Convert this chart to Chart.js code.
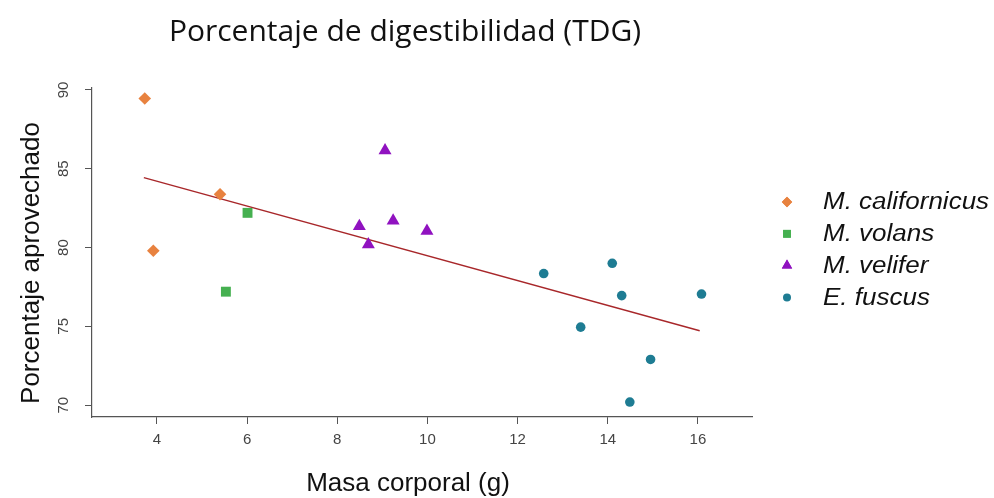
<!DOCTYPE html>
<html>
<head>
<meta charset="utf-8">
<script src="https://cdn.jsdelivr.net/npm/chart.js@4"></script>
<style>
html,body{margin:0;padding:0;background:#fff;}
#wrap{width:994px;height:498px;}
</style>
</head>
<body>
<div id="wrap"><canvas id="c" width="994" height="498"></canvas></div>
<script>
// ---- data ----
const title = "Porcentaje de digestibilidad (TDG)";
const xTitle = "Masa corporal (g)";
const yTitle = "Porcentaje aprovechado";
const xTicks = [4, 6, 8, 10, 12, 14, 16];
const yTicks = [70, 75, 80, 85, 90];

const speciesNames = ["M. californicus", "M. volans", "M. velifer", "E. fuscus"];
const speciesColors = ["#E8823F", "#45B050", "#9012C0", "#1E7C93"];
const speciesShapes = ["rectRot", "rect", "triangle", "circle"];

const calX = [3.73, 3.92, 5.40];
const calY = [89.45, 79.8, 83.38];
const volX = [6.01, 5.53];
const volY = [82.2, 77.2];
const velX = [9.06, 8.49, 8.69, 9.24, 9.99];
const velY = [86.15, 81.35, 80.2, 81.7, 81.05];
const fusX = [12.58, 14.10, 14.31, 13.40, 16.08, 14.95, 14.49];
const fusY = [78.35, 79.0, 76.95, 74.95, 77.05, 72.9, 70.2];

const trendX = [3.71, 16.04];
const trendY = [84.43, 74.72];

// ---- build ----
const pts = (xs, ys) => xs.map((x, i) => ({x: x, y: ys[i]}));
const seriesX = [calX, volX, velX, fusX];
const seriesY = [calY, volY, velY, fusY];
const radii = [6.3, 7, 7.5, 4.8];

const datasets = speciesNames.map((n, i) => ({
  type: 'scatter',
  label: n,
  data: pts(seriesX[i], seriesY[i]),
  pointStyle: speciesShapes[i],
  pointRadius: radii[i],
  pointHoverRadius: radii[i],
  backgroundColor: speciesColors[i],
  borderColor: speciesColors[i],
  borderWidth: 0
}));
datasets.push({
  type: 'line',
  label: 'trend',
  data: pts(trendX, trendY),
  borderColor: '#A8272A',
  borderWidth: 1.4,
  pointRadius: 0,
  fill: false
});

const textPlugin = {
  id: 'texts',
  afterDraw(chart) {
    const ctx = chart.ctx;
    const ys = chart.scales.y;
    ctx.save();
    // title
    ctx.fillStyle = '#111';
    ctx.font = '30px "Open Sans"';
    ctx.textAlign = 'center';
    ctx.textBaseline = 'middle';
    ctx.fillText(title, 405, 32);
    // x title
    ctx.font = '26px "Liberation Sans"';
    ctx.fillText(xTitle, 408, 484);
    // y title
    ctx.save();
    ctx.translate(32, 263);
    ctx.rotate(-Math.PI / 2);
    ctx.fillText(yTitle, 0, 0);
    ctx.restore();
    // rotated y tick labels
    ctx.font = '15px "Liberation Sans"';
    ctx.fillStyle = '#444';
    ys.ticks.forEach(t => {
      const py = ys.getPixelForValue(t.value);
      ctx.save();
      ctx.translate(64, py);
      ctx.rotate(-Math.PI / 2);
      ctx.fillText(String(t.value), 0, 0);
      ctx.restore();
    });
    // legend
    const lx = 787, ltx = 823, ly0 = 202, ldy = 31.8;
    const lr = [5.2, 5.5, 6, 4];
    speciesNames.forEach((n, i) => {
      const y = ly0 + i * ldy;
      ctx.fillStyle = speciesColors[i];
      if (speciesShapes[i] === 'circle') {
        ctx.beginPath();
        ctx.arc(lx, y, lr[i], 0, Math.PI * 2);
        ctx.closePath();
        ctx.fill();
      } else {
        Chart.helpers.drawPoint(ctx, {pointStyle: speciesShapes[i], radius: lr[i], borderWidth: 0}, lx, y);
        ctx.fill();
      }
      ctx.fillStyle = '#111';
      ctx.font = 'italic 23px "Liberation Sans"';
      ctx.textAlign = 'left';
      ctx.save();
      ctx.translate(ltx, y + 1);
      ctx.scale(1.13, 1);
      ctx.fillText(n, 0, 0);
      ctx.restore();
    });
    ctx.restore();
  }
};

new Chart(document.getElementById('c'), {
  data: {datasets: datasets},
  options: {
    responsive: false,
    animation: false,
    layout: {padding: {top: 88, right: 242, left: 0, bottom: 0}},
    plugins: {legend: {display: false}, title: {display: false}, tooltip: {enabled: false}},
    scales: {
      x: {
        type: 'linear',
        min: 2.56,
        max: 17.2,
        afterBuildTicks: s => { s.ticks = xTicks.map(v => ({value: v})); },
        afterFit: s => { s.height = 81; },
        grid: {display: true, drawOnChartArea: false, drawTicks: true, tickLength: 7, color: '#555', lineWidth: 1},
        border: {display: true, color: '#555', width: 1.2},
        ticks: {color: '#444', font: {family: 'Liberation Sans', size: 15}, padding: 7, maxRotation: 0}
      },
      y: {
        type: 'linear',
        min: 69.25,
        max: 90.12,
        afterBuildTicks: s => { s.ticks = yTicks.map(v => ({value: v})); },
        afterFit: s => { s.width = 92; },
        grid: {display: true, drawOnChartArea: false, drawTicks: true, tickLength: 7, color: '#555', lineWidth: 1},
        border: {display: true, color: '#555', width: 1.2},
        ticks: {color: 'rgba(0,0,0,0)', font: {family: 'Liberation Sans', size: 14}}
      }
    }
  },
  plugins: [textPlugin]
});
</script>
</body>
</html>
